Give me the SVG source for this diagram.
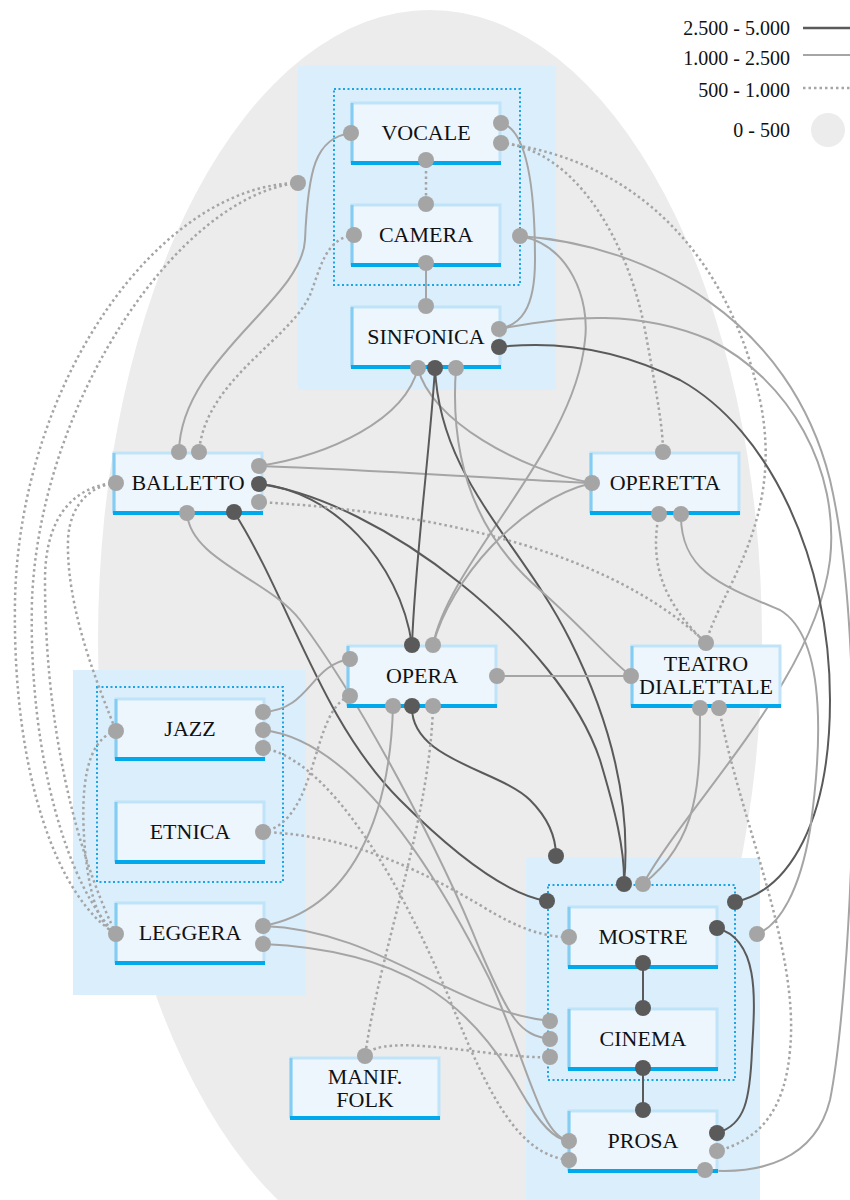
<svg xmlns="http://www.w3.org/2000/svg" width="850" height="1200" viewBox="0 0 850 1200">
<style>
.lbl{font-family:"Liberation Serif","DejaVu Serif",serif;font-size:22px;fill:#111;text-anchor:middle}
.leg{font-family:"Liberation Serif","DejaVu Serif",serif;font-size:20px;fill:#111;text-anchor:end}
.box{fill:#eef6fd;stroke:#bfe3f8;stroke-width:3}
.bl{stroke:#84cdf2;stroke-width:3}
.bb{stroke:#00a9ec;stroke-width:4}
.grp{fill:#dbeefb}
.ig{fill:none;stroke:#1aa5e6;stroke-width:2;stroke-dasharray:2 2.5}
.s{fill:none;stroke:#a5a5a5;stroke-width:2}
.d{fill:none;stroke:#5a5a5a;stroke-width:2}
.t{fill:none;stroke:#a5a5a5;stroke-width:2.5;stroke-dasharray:2.5 3}
.gs{fill:#a5a5a5}
.gd{fill:#5a5a5a}
</style>
<rect width="850" height="1200" fill="#fff"/>
<ellipse cx="430" cy="640" rx="332" ry="630" fill="#ececec"/>
<g id="groups">
<rect class="grp" x="298" y="66" width="258" height="324"/>
<rect class="ig" x="334" y="89" width="186" height="196"/>
<rect class="grp" x="73" y="670" width="233" height="325"/>
<rect class="ig" x="97" y="687" width="186" height="195"/>
<rect class="grp" x="526" y="858" width="234" height="342"/>
<rect class="ig" x="548" y="885" width="187" height="195"/>
</g>
<g id="legend">
<text class="leg" x="790" y="35">2.500 - 5.000</text>
<text class="leg" x="790" y="65">1.000 - 2.500</text>
<text class="leg" x="790" y="97">500 - 1.000</text>
<text class="leg" x="790" y="137">0 - 500</text>
<line class="d" x1="803" y1="28" x2="850" y2="28" style="stroke-width:2.5"/>
<line class="s" x1="803" y1="55" x2="850" y2="55"/>
<line class="t" x1="803" y1="88" x2="850" y2="88"/>
<circle cx="828" cy="130" r="17" fill="#ececec"/>
</g>
<g id="connectors">
<path class="s" d="M351,133 C315,138 308,170 305,240 C302,300 180,360 179,452"/>
<path class="t" d="M426,160 L426,204"/>
<path class="s" d="M501,123 C530,130 535,200 535,260 C535,310 520,325 499,329"/>
<path class="t" d="M501,143 C580,150 630,250 645,330 C658,400 663,430 663,452"/>
<path class="t" d="M501,143 C640,160 730,260 760,400 C785,520 720,590 706,643"/>
<path class="t" d="M354,235 C325,238 320,270 310,295 C290,340 205,380 199,452"/>
<path class="s" d="M426,263 L426,306"/>
<path class="s" d="M520,236 C570,245 590,300 585,340 C575,450 450,560 433,645"/>
<path class="s" d="M520,236 C650,245 790,320 830,480 C870,650 850,1000 830,1100 C815,1160 760,1175 705,1170"/>
<path class="s" d="M499,329 C570,315 640,310 710,340 C790,380 840,470 830,560 C815,680 690,800 643,884"/>
<path class="d" d="M499,347 C560,340 620,350 680,380 C770,430 830,560 830,700 C830,820 790,890 735,902"/>
<path class="s" d="M418,368 C405,420 330,455 259,466"/>
<path class="s" d="M418,368 C430,420 520,470 592,483"/>
<path class="s" d="M259,466 C380,470 480,478 592,483"/>
<path class="d" d="M435,368 C430,450 415,560 412,645"/>
<path class="d" d="M435,368 C440,480 520,540 570,640 C620,740 630,820 624,884"/>
<path class="d" d="M259,484 C330,490 400,560 412,645"/>
<path class="d" d="M259,484 C380,500 560,640 600,760 C615,810 625,850 624,884"/>
<path class="d" d="M234,512 C290,600 320,720 400,800 C460,860 510,895 547,901"/>
<path class="s" d="M456,368 C450,450 470,530 540,590 C580,625 610,660 631,676"/>
<path class="s" d="M592,483 C520,500 450,580 433,645"/>
<path class="s" d="M497,676 L631,676"/>
<path class="t" d="M259,502 C400,510 600,540 706,643"/>
<path class="t" d="M659,514 C650,560 660,600 706,643"/>
<path class="s" d="M681,514 C680,570 720,585 780,610 C830,640 820,760 810,830 C800,890 780,925 757,934"/>
<path class="s" d="M700,708 C700,780 700,840 643,884"/>
<path class="t" d="M719,708 C740,820 800,950 790,1050 C785,1110 760,1140 717,1151"/>
<path class="d" d="M412,706 C410,760 500,770 530,800 C550,820 556,840 556,856"/>
<path class="t" d="M433,706 C430,820 380,950 365,1056"/>
<path class="t" d="M365,1056 C380,1030 500,1060 550,1057"/>
<path class="s" d="M263,712 C310,710 310,665 350,659"/>
<path class="t" d="M263,832 C320,820 310,710 350,696"/>
<path class="t" d="M263,832 C350,835 420,870 480,905 C520,930 545,937 569,937"/>
<path class="s" d="M263,926 C350,910 390,820 393,706"/>
<path class="s" d="M263,926 C380,930 450,1010 550,1021"/>
<path class="s" d="M263,944 C400,950 470,1000 520,1090 C540,1125 555,1140 569,1141"/>
<path class="s" d="M263,730 C350,740 430,860 490,980 C530,1070 540,1135 569,1141"/>
<path class="t" d="M263,748 C330,760 400,880 450,1000 C490,1100 520,1155 569,1160"/>
<path class="s" d="M187,513 C190,560 270,580 300,620 C360,700 440,850 480,950 C510,1020 520,1035 550,1039"/>
<path class="d" d="M643,963 L643,1008"/>
<path class="d" d="M643,1068 L643,1110"/>
<path class="d" d="M717,928 C760,940 755,1000 752,1050 C750,1100 745,1125 717,1133"/>
<path class="t" d="M298,183 C160,185 20,380 15,600 C12,780 60,900 116,934"/>
<path class="t" d="M298,183 C180,195 40,400 32,600 C28,760 70,890 116,934"/>
<path class="t" d="M116,483 C95,485 70,500 68,540 C66,610 100,690 116,731"/>
<path class="t" d="M116,483 C80,485 45,510 45,580 C45,760 90,880 116,934"/>
<path class="t" d="M116,731 C85,740 80,790 85,850 C90,900 100,925 116,934"/>
</g>
<g id="node-vocale"><rect class="box" x="352" y="103" width="148" height="60"/><line class="bl" x1="352" y1="103" x2="352" y2="163"/><line class="bb" x1="351" y1="163" x2="501" y2="163"/><text class="lbl" x="426" y="140">VOCALE</text></g>
<g id="node-camera"><rect class="box" x="352" y="205" width="148" height="60"/><line class="bl" x1="352" y1="205" x2="352" y2="265"/><line class="bb" x1="351" y1="265" x2="501" y2="265"/><text class="lbl" x="426" y="242">CAMERA</text></g>
<g id="node-sinfonica"><rect class="box" x="352" y="307" width="148" height="60"/><line class="bl" x1="352" y1="307" x2="352" y2="367"/><line class="bb" x1="351" y1="367" x2="501" y2="367"/><text class="lbl" x="426" y="344">SINFONICA</text></g>
<g id="node-balletto"><rect class="box" x="114" y="453" width="148" height="60"/><line class="bl" x1="114" y1="453" x2="114" y2="513"/><line class="bb" x1="113" y1="513" x2="263" y2="513"/><text class="lbl" x="188" y="490">BALLETTO</text></g>
<g id="node-operetta"><rect class="box" x="591" y="453" width="148" height="60"/><line class="bl" x1="591" y1="453" x2="591" y2="513"/><line class="bb" x1="590" y1="513" x2="740" y2="513"/><text class="lbl" x="665" y="490">OPERETTA</text></g>
<g id="node-opera"><rect class="box" x="348" y="646" width="148" height="60"/><line class="bl" x1="348" y1="646" x2="348" y2="706"/><line class="bb" x1="347" y1="706" x2="497" y2="706"/><text class="lbl" x="422" y="683">OPERA</text></g>
<g id="node-teatro"><rect class="box" x="632" y="646" width="148" height="60"/><line class="bl" x1="632" y1="646" x2="632" y2="706"/><line class="bb" x1="631" y1="706" x2="781" y2="706"/><text class="lbl" x="706" y="671">TEATRO</text><text class="lbl" x="706" y="694">DIALETTALE</text></g>
<g id="node-jazz"><rect class="box" x="116" y="699" width="148" height="60"/><line class="bl" x1="116" y1="699" x2="116" y2="759"/><line class="bb" x1="115" y1="759" x2="265" y2="759"/><text class="lbl" x="190" y="736">JAZZ</text></g>
<g id="node-etnica"><rect class="box" x="116" y="802" width="148" height="60"/><line class="bl" x1="116" y1="802" x2="116" y2="862"/><line class="bb" x1="115" y1="862" x2="265" y2="862"/><text class="lbl" x="190" y="839">ETNICA</text></g>
<g id="node-leggera"><rect class="box" x="116" y="903" width="148" height="60"/><line class="bl" x1="116" y1="903" x2="116" y2="963"/><line class="bb" x1="115" y1="963" x2="265" y2="963"/><text class="lbl" x="190" y="940">LEGGERA</text></g>
<g id="node-mostre"><rect class="box" x="569" y="907" width="148" height="60"/><line class="bl" x1="569" y1="907" x2="569" y2="967"/><line class="bb" x1="568" y1="967" x2="718" y2="967"/><text class="lbl" x="643" y="944">MOSTRE</text></g>
<g id="node-cinema"><rect class="box" x="569" y="1009" width="148" height="60"/><line class="bl" x1="569" y1="1009" x2="569" y2="1069"/><line class="bb" x1="568" y1="1069" x2="718" y2="1069"/><text class="lbl" x="643" y="1046">CINEMA</text></g>
<g id="node-prosa"><rect class="box" x="569" y="1111" width="148" height="60"/><line class="bl" x1="569" y1="1111" x2="569" y2="1171"/><line class="bb" x1="568" y1="1171" x2="718" y2="1171"/><text class="lbl" x="643" y="1148">PROSA</text></g>
<g id="node-manif"><rect class="box" x="291" y="1058" width="148" height="60"/><line class="bl" x1="291" y1="1058" x2="291" y2="1118"/><line class="bb" x1="290" y1="1118" x2="440" y2="1118"/><text class="lbl" x="365" y="1084">MANIF.</text><text class="lbl" x="365" y="1107">FOLK</text></g>
<g id="ports">
<g class="gs">
<circle cx="351" cy="133" r="8"/><circle cx="501" cy="123" r="8"/><circle cx="426" cy="263" r="8"/><circle cx="426" cy="306" r="8"/><circle cx="520" cy="236" r="8"/><circle cx="499" cy="329" r="8"/><circle cx="418" cy="368" r="8"/><circle cx="456" cy="368" r="8"/><circle cx="179" cy="452" r="8"/><circle cx="259" cy="466" r="8"/><circle cx="592" cy="483" r="8"/><circle cx="187" cy="513" r="8"/><circle cx="681" cy="514" r="8"/><circle cx="433" cy="645" r="8"/><circle cx="350" cy="659" r="8"/><circle cx="497" cy="676" r="8"/><circle cx="631" cy="676" r="8"/><circle cx="393" cy="706" r="8"/><circle cx="700" cy="708" r="8"/><circle cx="263" cy="712" r="8"/><circle cx="263" cy="730" r="8"/><circle cx="263" cy="926" r="8"/><circle cx="263" cy="944" r="8"/><circle cx="643" cy="884" r="8"/><circle cx="757" cy="934" r="8"/><circle cx="550" cy="1021" r="8"/><circle cx="550" cy="1039" r="8"/><circle cx="569" cy="1141" r="8"/><circle cx="705" cy="1170" r="8"/>
<circle cx="426" cy="160" r="8"/><circle cx="426" cy="204" r="8"/><circle cx="501" cy="143" r="8"/><circle cx="354" cy="235" r="8"/><circle cx="298" cy="183" r="8"/><circle cx="199" cy="452" r="8"/><circle cx="116" cy="483" r="8"/><circle cx="259" cy="502" r="8"/><circle cx="663" cy="452" r="8"/><circle cx="659" cy="514" r="8"/><circle cx="706" cy="643" r="8"/><circle cx="719" cy="708" r="8"/><circle cx="350" cy="696" r="8"/><circle cx="433" cy="706" r="8"/><circle cx="116" cy="731" r="8"/><circle cx="263" cy="748" r="8"/><circle cx="263" cy="832" r="8"/><circle cx="116" cy="934" r="8"/><circle cx="569" cy="937" r="8"/><circle cx="550" cy="1057" r="8"/><circle cx="365" cy="1056" r="8"/><circle cx="569" cy="1160" r="8"/><circle cx="717" cy="1151" r="8"/>
</g>
<g class="gd">
<circle cx="499" cy="347" r="8"/><circle cx="435" cy="368" r="8"/><circle cx="259" cy="484" r="8"/><circle cx="234" cy="512" r="8"/><circle cx="412" cy="645" r="8"/><circle cx="412" cy="706" r="8"/><circle cx="556" cy="856" r="8"/><circle cx="624" cy="884" r="8"/><circle cx="547" cy="901" r="8"/><circle cx="735" cy="902" r="8"/><circle cx="717" cy="928" r="8"/><circle cx="643" cy="963" r="8"/><circle cx="643" cy="1008" r="8"/><circle cx="643" cy="1068" r="8"/><circle cx="643" cy="1110" r="8"/><circle cx="717" cy="1133" r="8"/>
</g>
</g>
</svg>
